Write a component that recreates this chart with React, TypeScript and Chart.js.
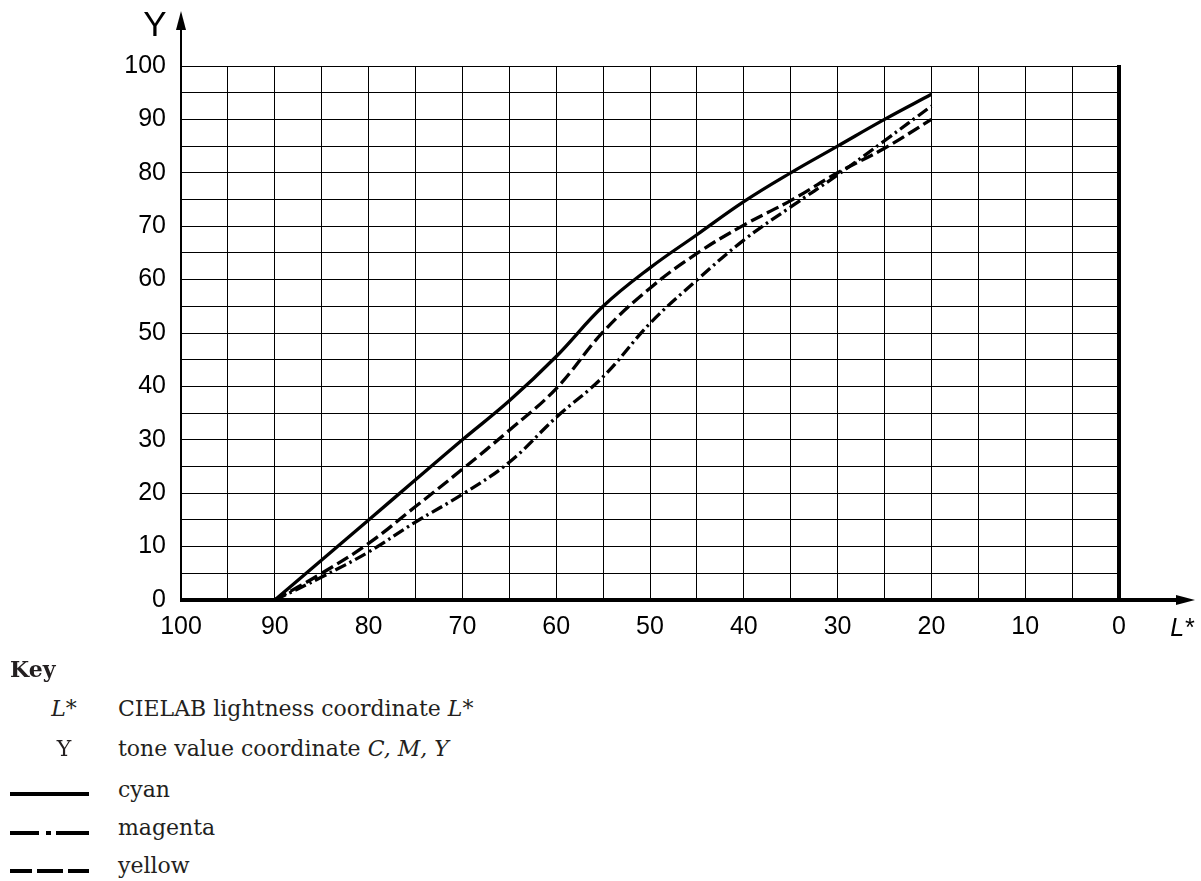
import React, { useEffect, useRef } from "react";
import { Chart, registerables } from "chart.js";

Chart.register(...registerables);

// CIELAB lightness L* (x axis, reversed)
const lightness = [90, 85, 80, 75, 70, 65, 60, 55, 50, 45, 40, 35, 30, 25, 20];
// tone value Y for each process colour
const cyan = [0, 7.5, 15, 22.5, 30, 37.3, 45.6, 55, 62.2, 68.4, 74.6, 80, 85, 90, 94.7];
const magenta = [0, 4.3, 9, 14.6, 19.8, 25.8, 34.2, 41.8, 51.8, 59.9, 67.4, 73.6, 79.6, 86, 92.5];
const yellow = [0, 5, 10.6, 17.5, 24.5, 31.8, 39.6, 50.2, 58.4, 64.9, 70.2, 74.8, 80, 84.6, 90];

const xMin = 0;
const xMax = 100;
const yMin = 0;
const yMax = 100;
const gridStep = 5;
const labelStep = 10;

const seriesNames = ["cyan", "magenta", "yellow"];
const seriesDash: number[][] = [[], [12, 4, 2.5, 4], [13, 5]];

const axisFont = '"Liberation Sans", Arial, sans-serif';

const axesPlugin = {
  id: "axesArrows",
  afterDraw(chart: any) {
    const ctx = chart.ctx;
    const xs = chart.scales.x;
    const ys = chart.scales.y;
    const xLeft = xs.getPixelForValue(xMax);
    const xRight = xs.getPixelForValue(xMin);
    const yBottom = ys.getPixelForValue(yMin);
    const yTop = ys.getPixelForValue(yMax);
    ctx.save();
    ctx.strokeStyle = "#000";
    ctx.fillStyle = "#000";
    // left (Y) axis with arrow
    ctx.lineWidth = 2;
    ctx.beginPath();
    ctx.moveTo(xLeft, yBottom);
    ctx.lineTo(xLeft, 26);
    ctx.stroke();
    ctx.beginPath();
    ctx.moveTo(xLeft, 11);
    ctx.lineTo(xLeft - 5, 30);
    ctx.lineTo(xLeft + 5, 30);
    ctx.closePath();
    ctx.fill();
    // bottom (L*) axis with arrow
    ctx.lineWidth = 4;
    ctx.beginPath();
    ctx.moveTo(xLeft - 1, yBottom);
    ctx.lineTo(1180, yBottom);
    ctx.stroke();
    ctx.beginPath();
    ctx.moveTo(1195, yBottom);
    ctx.lineTo(1176, yBottom - 5);
    ctx.lineTo(1176, yBottom + 5);
    ctx.closePath();
    ctx.fill();
    // thick line at L* = 0
    ctx.beginPath();
    ctx.moveTo(xRight, yBottom);
    ctx.lineTo(xRight, yTop - 1);
    ctx.stroke();
    // axis titles
    ctx.font = "35px " + axisFont;
    ctx.textAlign = "center";
    ctx.textBaseline = "alphabetic";
    ctx.fillText("Y", 155, 36);
    ctx.font = "italic 25px " + axisFont;
    ctx.fillText("L*", 1182, 636);
    ctx.restore();
  },
};

function ChartCanvas() {
  const ref = useRef<HTMLCanvasElement | null>(null);
  useEffect(() => {
    if (!ref.current) return;
    const datasets = [cyan, magenta, yellow].map((vals, i) => ({
      label: seriesNames[i],
      data: lightness.map((l, j) => ({ x: l, y: vals[j] })),
      borderColor: "#000",
      backgroundColor: "#000",
      borderWidth: 3.3,
      borderDash: seriesDash[i],
      borderCapStyle: "butt" as const,
      pointRadius: 0,
      tension: 0.4,
      fill: false,
    }));
    const chart = new Chart(ref.current, {
      type: "line",
      data: { datasets },
      options: {
        animation: false,
        responsive: false,
        devicePixelRatio: 1,
        layout: { padding: { left: 0, top: 66, right: 82, bottom: 0 } },
        plugins: { legend: { display: false }, tooltip: { enabled: false } },
        scales: {
          x: {
            type: "linear",
            reverse: true,
            min: xMin,
            max: xMax,
            afterFit: (s: any) => {
              s.height = 60;
            },
            ticks: {
              stepSize: gridStep,
              autoSkip: false,
              maxRotation: 0,
              padding: 12,
              color: "#000",
              font: { family: axisFont, size: 25 },
              callback: (v: any) => (Number(v) % labelStep === 0 ? String(v) : ""),
            },
            grid: { color: "#000", lineWidth: 1, drawTicks: false },
            border: { display: false },
          },
          y: {
            type: "linear",
            min: yMin,
            max: yMax,
            afterFit: (s: any) => {
              s.width = 181;
            },
            ticks: {
              stepSize: gridStep,
              autoSkip: false,
              padding: 15,
              color: "#000",
              font: { family: axisFont, size: 25 },
              callback: (v: any) => (Number(v) % labelStep === 0 ? String(v) : ""),
            },
            grid: { color: "#000", lineWidth: 1, drawTicks: false },
            border: { display: false },
          },
        },
      },
      plugins: [axesPlugin],
    });
    return () => chart.destroy();
  }, []);
  return (
    <canvas
      ref={ref}
      width={1201}
      height={660}
      style={{ position: "absolute", left: 0, top: 0, width: 1201, height: 660 }}
    />
  );
}

const keyFont = '"DejaVu Serif", "Liberation Serif", serif';
const keySize = 22;
const keyLine = 28;
// baseline offset inside a 28px line box for 22px DejaVu Serif
const baseOff = (keyLine - keySize * 1.164) / 2 + keySize * 0.928;

function KeyLine({ y, dash }: { y: number; dash: string }) {
  return (
    <svg style={{ position: "absolute", left: 10, top: y - 5, width: 80, height: 10 }}>
      <line x1={0} y1={5} x2={79} y2={5} stroke="#000" strokeWidth={4} strokeDasharray={dash} />
    </svg>
  );
}

const textStyle = (baseline: number): React.CSSProperties => ({
  position: "absolute",
  top: baseline - baseOff,
  height: keyLine,
  lineHeight: keyLine + "px",
  fontFamily: keyFont,
  fontSize: keySize,
  color: "#231f20",
  whiteSpace: "nowrap",
});

function Row({ baseline, sym, children }: { baseline: number; sym?: React.ReactNode; children: React.ReactNode }) {
  return (
    <>
      {sym !== undefined && (
        <div style={{ ...textStyle(baseline), left: 40, width: 48, textAlign: "center" }}>{sym}</div>
      )}
      <div style={{ ...textStyle(baseline), left: 118 }}>{children}</div>
    </>
  );
}

export default function App() {
  return (
    <div style={{ position: "absolute", left: 0, top: 0, width: 1201, height: 881, background: "#fff" }}>
      <ChartCanvas />
      <div style={{ ...textStyle(677), left: 10, fontWeight: "bold" }}>Key</div>
      <Row baseline={717} sym={<i>L*</i>}>
        CIELAB lightness coordinate <i>L*</i>
      </Row>
      <Row baseline={757} sym={"Y"}>
        tone value coordinate <i>C, M, Y</i>
      </Row>
      <KeyLine y={794} dash="" />
      <Row baseline={798}>cyan</Row>
      <KeyLine y={833} dash="29 7 5 5 40" />
      <Row baseline={836}>magenta</Row>
      <KeyLine y={871} dash="22 5 26 5 30" />
      <Row baseline={874}>yellow</Row>
    </div>
  );
}
